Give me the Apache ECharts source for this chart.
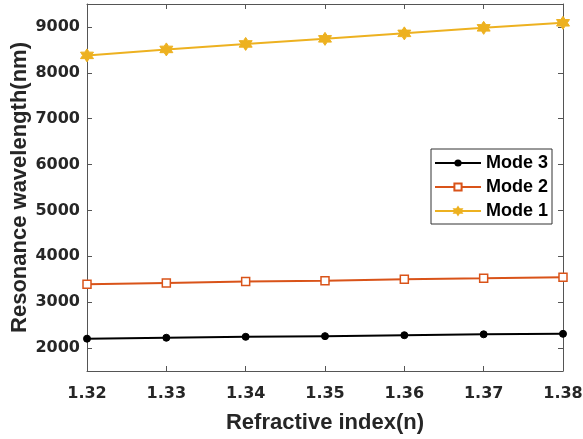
<!DOCTYPE html>
<html>
<head>
<meta charset="utf-8">
<script src="https://cdn.jsdelivr.net/npm/echarts@6/dist/echarts.min.js"></script>
<style>
  html, body { margin: 0; padding: 0; background: #fff; }
  #chart { width: 583px; height: 439px; }
</style>
</head>
<body>
<div id="chart"></div>
<script>
// Refractive index of the analyte (x) and resonance wavelength in nm (y)
const refractiveIndex = [1.32, 1.33, 1.34, 1.35, 1.36, 1.37, 1.38];
const mode3 = [2205, 2225, 2245, 2260, 2280, 2300, 2310];
const mode2 = [3390, 3420, 3450, 3470, 3500, 3520, 3545];
const mode1 = [8380, 8510, 8630, 8740, 8860, 8980, 9090];
const yTicks = [2000, 3000, 4000, 5000, 6000, 7000, 8000, 9000];
const xTicks = [1.32, 1.33, 1.34, 1.35, 1.36, 1.37, 1.38];

const NAME_FONT = 'Liberation Sans, Arial, sans-serif';
const TICK_FONT = 'DejaVu Sans, sans-serif';
const TEXT = '#262626';
const AXIS = '#555555';

// six-pointed star marker
const hexagram = 'path://M0,-10 L2.9,-5 L8.66,-5 L5.8,0 L8.66,5 L2.9,5 L0,10 L-2.9,5 L-8.66,5 L-5.8,0 L-8.66,-5 L-2.9,-5 Z';

function pairs(ys) { return refractiveIndex.map((x, i) => [x, ys[i]]); }

const baseX = {
  type: 'value', min: 1.32, max: 1.38, interval: 0.01,
  axisLine: { show: true, onZero: false, lineStyle: { color: AXIS, width: 1 } },
  axisTick: { show: true, inside: true, length: 5, lineStyle: { color: AXIS } },
  splitLine: { show: false }
};
const baseY = {
  type: 'value', min: 1500, max: 9500,
  axisLine: { show: true, onZero: false, lineStyle: { color: AXIS, width: 1 } },
  axisTick: { show: true, inside: true, length: 5, customValues: yTicks, lineStyle: { color: AXIS } },
  splitLine: { show: false }
};

const option = {
  animation: false,
  backgroundColor: '#fff',
  grid: { left: 87, right: 20, top: 4, bottom: 68, containLabel: false, outerBoundsMode: 'none' },
  xAxis: [
    Object.assign({}, baseX, {
      position: 'bottom',
      name: 'Refractive index(n)', nameLocation: 'middle', nameGap: 41,
      nameTextStyle: { fontFamily: NAME_FONT, fontWeight: 'bold', fontSize: 22, color: TEXT },
      axisLabel: { show: true, margin: 15, fontFamily: TICK_FONT, fontWeight: 'bold', fontSize: 16, color: TEXT,
        customValues: xTicks, formatter: v => v.toFixed(2) }
    }),
    Object.assign({}, baseX, { position: 'top', axisLabel: { show: false } })
  ],
  yAxis: [
    Object.assign({}, baseY, {
      position: 'left',
      name: 'Resonance wavelength(nm)', nameLocation: 'middle', nameGap: 56, nameRotate: 90,
      nameMoveOverlap: false,
      nameTextStyle: { fontFamily: NAME_FONT, fontWeight: 'bold', fontSize: 22, color: TEXT },
      axisLabel: { show: true, margin: 7, fontFamily: TICK_FONT, fontWeight: 'bold', fontSize: 16, color: TEXT,
        customValues: yTicks, formatter: v => String(v) }
    }),
    Object.assign({}, baseY, { position: 'right', axisLabel: { show: false } })
  ],
  legend: {
    orient: 'vertical', left: 431, top: 149,
    itemWidth: 46, itemHeight: 9, itemGap: 6,
    padding: [5, 4, 4, 3],
    borderColor: '#333', borderWidth: 1, backgroundColor: '#fff',
    textStyle: { fontFamily: NAME_FONT, fontWeight: 'bold', fontSize: 18, color: '#000' },
    data: ['Mode 3', 'Mode 2', 'Mode 1']
  },
  series: [
    {
      name: 'Mode 3', type: 'line', data: pairs(mode3),
      symbol: 'circle', symbolSize: 7,
      lineStyle: { color: '#000', width: 2 },
      itemStyle: { color: '#000', borderColor: '#000' }
    },
    {
      name: 'Mode 2', type: 'line', data: pairs(mode2),
      symbol: 'rect', symbolSize: 8,
      lineStyle: { color: '#D95319', width: 2 },
      itemStyle: { color: '#fff', borderColor: '#D95319', borderWidth: 1.5 }
    },
    {
      name: 'Mode 1', type: 'line', data: pairs(mode1),
      symbol: hexagram, symbolSize: 13,
      lineStyle: { color: '#EDB120', width: 2 },
      itemStyle: { color: '#EDB120', borderColor: '#EDB120', borderWidth: 1 }
    }
  ]
};

echarts.init(document.getElementById('chart'), null, { renderer: 'canvas' }).setOption(option);
</script>
</body>
</html>
